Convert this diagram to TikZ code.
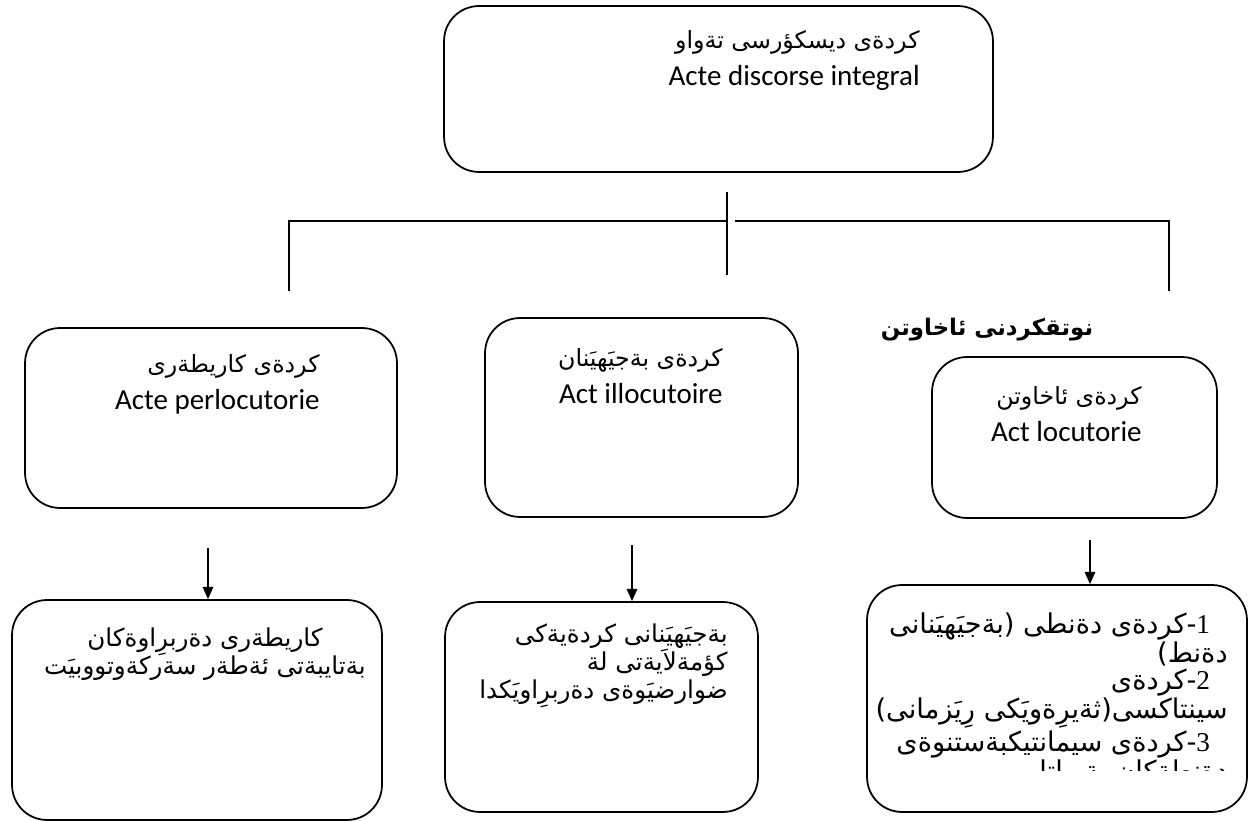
\documentclass[tikz,border=0pt]{standalone}
\usepackage{fontspec}
\setmainfont{Carlito}
\newfontfamily\arabicfont[Script=Arabic]{DejaVu Sans}
\newfontfamily\digitfont{Liberation Serif}
\TeXXeTstate=1
\newcommand{\rl}[1]{{\arabicfont\beginR #1\endR}}
\newcommand{\rls}[1]{{\arabicfont\fontsize{13.5}{21}\selectfont\beginR #1\endR}}
\usetikzlibrary{arrows.meta}

\begin{document}
\begin{tikzpicture}[x=0.02cm,y=-0.02cm,
  box/.style={draw,line width=1pt,rounded corners=0.7cm,inner sep=0pt},
  lbl/.style={inner sep=0pt,align=right,font=\fontsize{16.5}{21}\selectfont},
  arb/.style={inner sep=0pt,font=\fontsize{14}{16}\selectfont},
  con/.style={line width=0.9pt},
  arr/.style={line width=0.9pt,-{Triangle[length=7pt,width=6pt]}}]
\useasboundingbox (0,0) rectangle (1249,821);
% boxes
\node[box,minimum width=10.98cm,minimum height=3.32cm] (disc) at (718.5,89) {};
\node[box,minimum width=7.44cm,minimum height=3.6cm] (perlo) at (211,418) {};
\node[box,minimum width=6.26cm,minimum height=3.98cm] (illo) at (641.5,417.5) {};
\node[box,minimum width=5.7cm,minimum height=3.22cm] (locu) at (1074.5,437.5) {};
\node[box,minimum width=7.4cm,minimum height=4.4cm] (perloEx) at (197,710) {};
\node[box,minimum width=6.26cm,minimum height=4.2cm] (illoEx) at (601.5,707) {};
\node[box,minimum width=7.6cm,minimum height=4.54cm] (locuEx) at (1057,698.5) {};
% labels
\node[lbl,anchor=north east] (discTxt) at (920,30)
  {\rls{كردةى ديسكؤرسى تةواو}\\Acte discorse integral};
\node[lbl,anchor=north east] (perloTxt) at (320,354)
  {\rls{كردةى كاريطةرى}\\Acte perlocutorie};
\node[lbl,anchor=north east] (illoTxt) at (723,348)
  {\rls{كردةى بةجيَهيَنان}\\Act illocutoire};
\node[lbl,anchor=north east] (locuTxt) at (1142,386)
  {\rls{كردةى ئاخاوتن}\\Act locutorie};
\node[arb,font=\fontsize{13}{16}\selectfont\bfseries] (title) at (987,330)
  {\rl{نوتقكردنى ئاخاوتن}};
\node[arb,align=center,anchor=north] (perloExTxt) at (205,627)
  {\rl{كاريطةرى دةربرِاوةكان}\\\rl{بةتايبةتى ئةطةر سةركةوتووبيَت}};
\node[arb,align=right,anchor=north east] (illoExTxt) at (728,623)
  {\rl{بةجيَهيَنانى كردةيةكى}\\\rl{كؤمةلاَيةتى لة}\\\rl{ضوارضيَوةى دةربرِاويَكدا}};
\begin{scope}
\clip (867,585) rectangle (1247,770);
\node[arb,font=\fontsize{15.5}{15.4}\selectfont,align=right,anchor=north east] (locuExTxt) at (1228,612)
  {\rl{\hspace{10pt}{\digitfont 1}-كردةى دةنطى (بةجيَهيَنانى}\\
   \rl{دةنط)}\\
   \rl{\hspace{10pt}{\digitfont 2}-كردةى}\\
   \rl{سينتاكسى(ثةيرِةويَكى رِيَزمانى)}\\
   \rl{\hspace{10pt}{\digitfont 3}-كردةى سيمانتيكبةستنوةى}\\
   \rl{دةنطةكان بة واتا}};
\end{scope}
% bracket
\coordinate (brTop) at (727,192);
\coordinate (brBot) at (727,275);
\coordinate (brL) at (289,221);
\coordinate (brLd) at (289,291);
\coordinate (brMl) at (727,221);
\coordinate (brMr) at (735,221);
\coordinate (brR) at (1169,221);
\coordinate (brRd) at (1169,291);
\draw[con] (brTop)--(brBot);
\draw[con] (brLd)--(brL)--(brMl);
\draw[con] (brMr)--(brR)--(brRd);
% arrows
\coordinate (arPerlo) at (208,548);
\coordinate (arIllo) at (632,545);
\coordinate (arLocu) at (1090,540);
\draw[arr] (arPerlo)--(arPerlo |- perloEx.north);
\draw[arr] (arIllo)--(arIllo |- illoEx.north);
\draw[arr] (arLocu)--(arLocu |- locuEx.north);
\end{tikzpicture}
\end{document}
